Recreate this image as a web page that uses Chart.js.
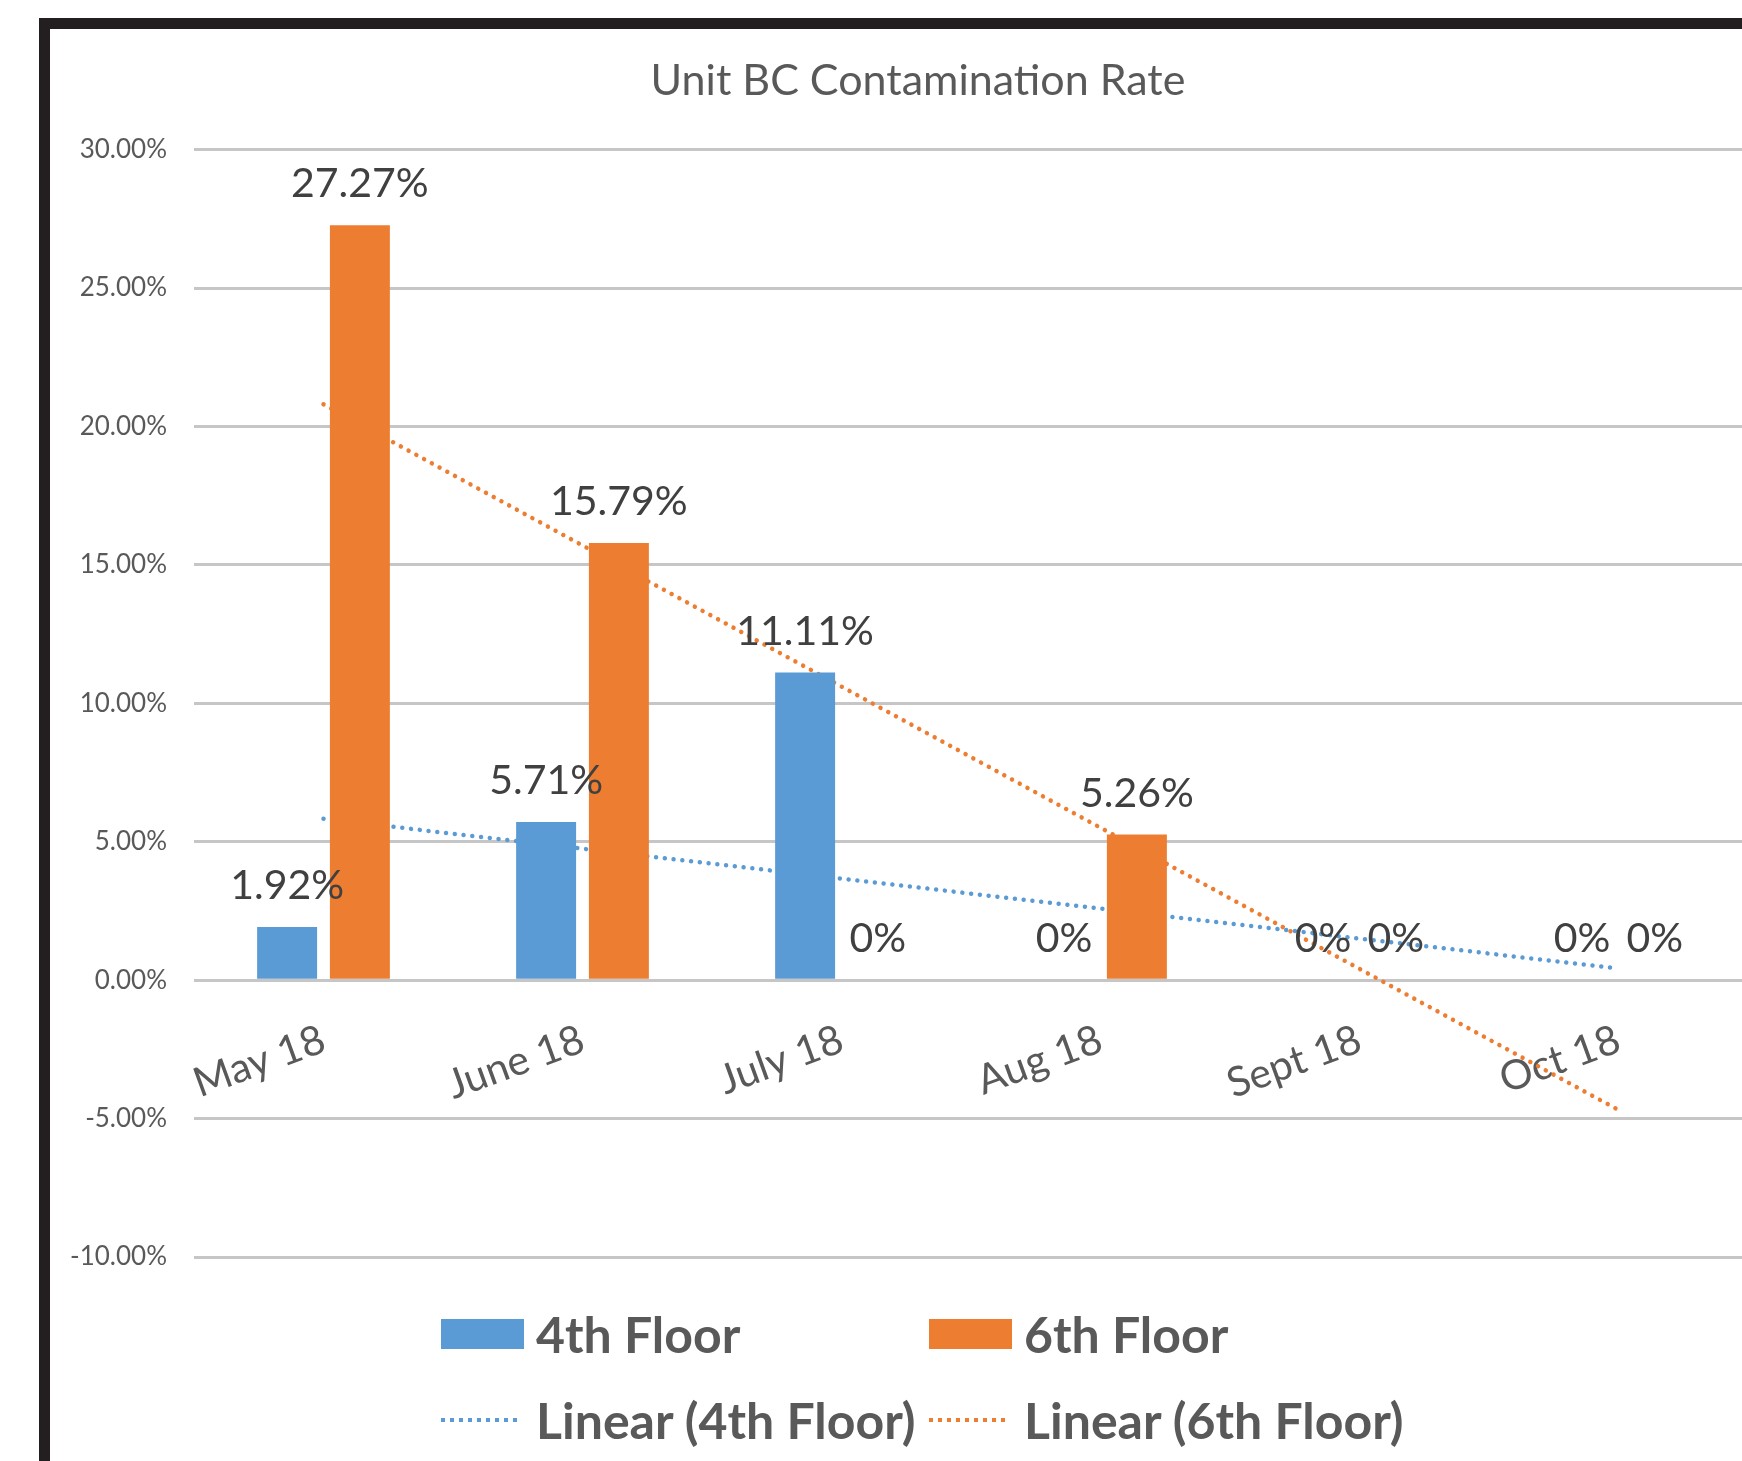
<!DOCTYPE html>
<html>
<head>
<meta charset="utf-8">
<title>Unit BC Contamination Rate</title>
<script src="https://cdn.jsdelivr.net/npm/chart.js@4.4.1/dist/chart.umd.min.js"></script>
<style>
    html, body { margin: 0; padding: 0; background: #fff; overflow: hidden; }
    body { width: 1742px; height: 1461px; position: relative; font-family: Lato, sans-serif; }
    .frame {
        position: absolute; left: 39px; top: 18px; width: 1760px; height: 1460px;
        border-left: 11px solid #231f20; border-top: 11px solid #231f20;
    }
    #chart { position: absolute; left: 50px; top: 29px; }
    #legend {
        position: absolute; left: 441px; top: 1291px;
        display: grid; grid-template-columns: 488px auto;
    }
    .legend-item { display: flex; align-items: center; height: 86px; }
    .legend-swatch { width: 83px; height: 30px; margin-right: 12px; flex: none; }
    .legend-line { width: 81px; height: 4px; margin-right: 14px; flex: none; }
    .legend-text { font-weight: 700; font-size: 50px; color: #595959; white-space: nowrap; }
</style>
</head>
<body>
<div class="frame"></div>
<!-- the chart runs a little past the right edge of the window, as in the original -->
<canvas id="chart" width="1736" height="1432"></canvas>
<div id="legend"></div>
<script>
// ##### Data #####
const months = ['May 18', 'June 18', 'July 18', 'Aug 18', 'Sept 18', 'Oct 18']
const floor4 = [1.92, 5.71, 11.11, 0, 0, 0]
const floor6 = [27.27, 15.79, 0, 5.26, 0, 0]
// trendline ends (first and last month only)
const trend4 = [5.83, null, null, null, null, 0.42]
const trend6 = [20.8, null, null, null, null, -4.69]
const yMin = -10
const yMax = 30
const yStep = 5

const blue = '#5b9bd5'
const orange = '#ed7d31'

Chart.defaults.font.family = 'Lato, sans-serif'

// value labels above the bars
const barLabels = {
    id: 'barLabels',
    afterDatasetsDraw(chart) {
        const ctx = chart.ctx
        ctx.save()
        ctx.font = '41px Lato, sans-serif'
        ctx.fillStyle = '#404040'
        ctx.textAlign = 'center'
        ctx.textBaseline = 'alphabetic'
        chart.data.datasets.forEach((ds, i) => {
            if (ds.type !== 'bar') return
            chart.getDatasetMeta(i).data.forEach((bar, j) => {
                const v = ds.data[j]
                const text = v === 0 ? '0%' : v.toFixed(2) + '%'
                ctx.fillText(text, bar.x, bar.y - 28)
            })
        })
        ctx.restore()
    },
}

function trendDataset(label, data, color) {
    return {
        type: 'line',
        label: label,
        data: data,
        borderColor: color,
        backgroundColor: color,
        borderWidth: 4.5,
        borderDash: [0.01, 8.8],
        borderCapStyle: 'round',
        pointRadius: 0,
        spanGaps: true,
        order: 2,
    }
}

const ctx = document.getElementById('chart').getContext('2d')
const chart = new Chart(ctx, {
    type: 'bar',
    data: {
        labels: months,
        datasets: [
            {
                type: 'bar',
                label: '4th Floor',
                data: floor4,
                backgroundColor: blue,
                categoryPercentage: 0.562,
                barPercentage: 0.824,
                order: 1,
            },
            {
                type: 'bar',
                label: '6th Floor',
                data: floor6,
                backgroundColor: orange,
                categoryPercentage: 0.562,
                barPercentage: 0.824,
                order: 1,
            },
            trendDataset('Linear (4th Floor)', trend4, blue),
            trendDataset('Linear (6th Floor)', trend6, orange),
        ],
    },
    options: {
        responsive: false,
        animation: false,
        devicePixelRatio: 1,
        layout: { padding: { left: 0, right: 0, top: 0, bottom: 204 } },
        plugins: {
            legend: { display: false },
            tooltip: { enabled: false },
            title: {
                display: true,
                text: 'Unit BC Contamination Rate',
                color: '#595959',
                font: { size: 43, weight: 'normal' },
                padding: { top: 26, bottom: 43 },
            },
        },
        scales: {
            x: {
                position: { y: 0 },
                grid: { display: false, drawTicks: false },
                border: { display: false },
                ticks: {
                    color: '#595959',
                    font: { size: 41 },
                    minRotation: 20,
                    maxRotation: 20,
                    autoSkip: false,
                    padding: 35,
                },
                afterFit: (s) => {
                    s.height = 0
                    s.paddingLeft = 0
                    s.paddingRight = 0
                },
            },
            y: {
                min: yMin,
                max: yMax,
                grid: { color: '#c6c6c6', lineWidth: 3, drawTicks: false },
                border: { display: false },
                ticks: {
                    stepSize: yStep,
                    color: '#595959',
                    font: { size: 26 },
                    padding: 27,
                    callback: (v) => v.toFixed(2) + '%',
                },
                afterFit: (s) => {
                    s.width = 144
                },
            },
            // empty right-hand strip so the plot stops where the original's does
            yRight: {
                type: 'linear',
                position: 'right',
                grid: { display: false, drawTicks: false },
                border: { display: false },
                ticks: { display: false },
                afterFit: (s) => {
                    s.width = 38
                },
            },
        },
    },
    plugins: [barLabels],
})

// ##### Legend #####
const legendEl = document.getElementById('legend')
chart.options.plugins.legend.labels.generateLabels(chart).forEach((item) => {
    const ds = chart.data.datasets[item.datasetIndex]
    const color = ds.borderColor || ds.backgroundColor
    const row = document.createElement('div')
    row.className = 'legend-item'
    const swatch = document.createElement('div')
    if (ds.type === 'line') {
        swatch.className = 'legend-line'
        swatch.style.background = `repeating-linear-gradient(to right, ${color} 0 4px, transparent 4px 9px)`
    } else {
        swatch.className = 'legend-swatch'
        swatch.style.background = ds.backgroundColor
    }
    const text = document.createElement('span')
    text.className = 'legend-text'
    text.textContent = item.text
    row.appendChild(swatch)
    row.appendChild(text)
    legendEl.appendChild(row)
})
</script>
</body>
</html>
